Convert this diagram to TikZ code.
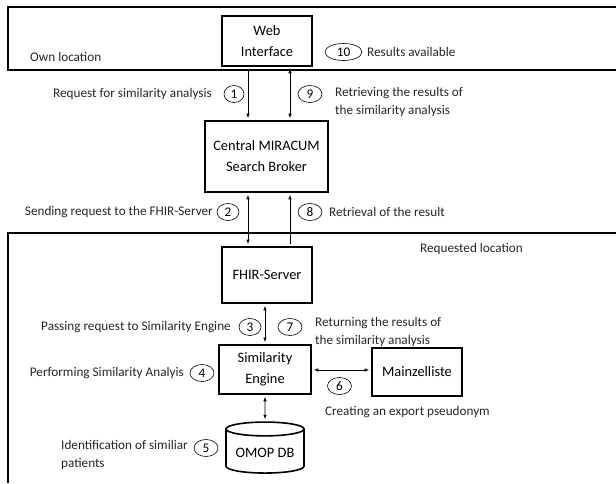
\documentclass[tikz,border=0pt]{standalone}
\usepackage{fontspec}
\setmainfont{Carlito}
\usetikzlibrary{shapes.geometric,arrows.meta}

\begin{document}
\begin{tikzpicture}[x=1pt,y=-1pt,
        box/.style={draw,line width=1.6pt,align=center,inner sep=2pt,font=\fontsize{14.4}{21}\selectfont},
        num/.style={draw,ellipse,line width=0.6pt,inner sep=0pt,minimum width=24pt,minimum height=17pt,font=\fontsize{13.2}{15}\selectfont},
        lbl/.style={inner sep=0pt,align=left,text=black!85,font=\fontsize{13.2}{18}\selectfont},
        link/.style={line width=0.8pt,shorten <=2pt,shorten >=2pt},
        >={Latex[length=4.5pt,width=3.5pt]}]
            \useasboundingbox (0,0) rectangle (616,483);

            % own location and requested location
            \draw[line width=1.3pt] (616,7) -- (8,7) -- (8,70) -- (616,70);
            \draw[line width=1.3pt] (616,233) -- (8,233) -- (8,483);
            \node[lbl,anchor=west] (own) at (30,57) {Own location};
            \node[lbl,anchor=west] (req) at (420,249) {Requested location};

            \node[box,minimum width=90pt,minimum height=50pt] (web) at (267,41) {Web\\Interface};
            \node[box,minimum width=123pt,minimum height=71pt] (broker) at (266.5,156.5) {Central MIRACUM\\Search Broker};
            \node[box,minimum width=90pt,minimum height=56pt] (fhir) at (267,275) {FHIR-Server};
            \node[box,minimum width=92pt,minimum height=49pt] (engine) at (265,369.5) {Similarity\\Engine};
            \node[box,minimum width=90pt,minimum height=48pt] (mainz) at (417,372) {Mainzelliste};
            \node[box,cylinder,shape border rotate=90,aspect=0.22,minimum width=78pt,minimum height=51pt] (omop) at (265,452.5) {OMOP DB};

            \coordinate (xa) at (248,0);
            \coordinate (xb) at (290,0);
            \draw[link,->] (web.south -| xa) -- (broker.north -| xa);
            \draw[link,<->] (web.south -| xb) -- (broker.north -| xb);
            \draw[link,<->] (broker.south -| xa) -- (fhir.north -| xa);
            \draw[link,->] (fhir.north -| xb) -- (broker.south -| xb);
            \draw[link,<->] (fhir.south -| engine) -- (engine.north);
            \draw[link,<->] (engine.east |- 0,370) -- (mainz.west |- 0,370);
            \draw[link,<->] (engine.south) -- (omop.north);

            \node[num,minimum width=37pt] (n10) at (343.5,52) {10};
            \node[lbl,anchor=west] (t10) at (367,52) {Results available};
            \node[num,minimum width=20pt] (n1) at (234,94) {1};
            \node[lbl,anchor=east] (t1) at (212,94) {Request for similarity analysis};
            \node[num] (n9) at (310,94) {9};
            \node[lbl,anchor=west] (t9) at (335,102) {Retrieving the results of\\the similarity analysis};
            \node[num,minimum width=22pt] (n2) at (228,212) {2};
            \node[lbl,anchor=east] (t2) at (213,212) {Sending request to the FHIR-Server};
            \node[num] (n8) at (310,212) {8};
            \node[lbl,anchor=west] (t8) at (329,212) {Retrieval of the result};
            \node[num,minimum width=22pt] (n3) at (250,327) {3};
            \node[lbl,anchor=east] (t3) at (231,327) {Passing request to Similarity Engine};
            \node[num] (n7) at (290,327) {7};
            \node[lbl,anchor=west] (t7) at (315,331.5) {Returning the results of\\the similarity analysis};
            \node[num] (n4) at (202,373) {4};
            \node[lbl,anchor=east] (t4) at (184,373) {Performing Similarity Analyis};
            \node[num] (n6) at (339.5,386) {6};
            \node[lbl,anchor=west] (t6) at (325,412) {Creating an export pseudonym};
            \node[num] (n5) at (206,448) {5};
            \node[lbl,anchor=west] (t5) at (61,454.5) {Identification of similiar\\patients};
        \end{tikzpicture}
\end{document}
